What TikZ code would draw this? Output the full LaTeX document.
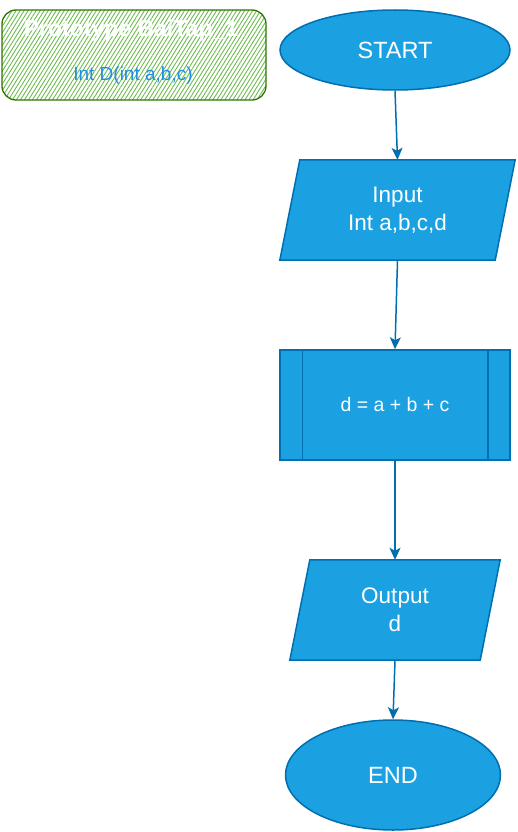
\documentclass[tikz,border=0pt]{standalone}
\usepackage{fontspec}
\setmainfont{Liberation Sans}
\usetikzlibrary{shapes.geometric,arrows.meta,patterns.meta}
\definecolor{boxfill}{HTML}{1BA1E2}
\definecolor{boxline}{HTML}{006EAF}
\definecolor{hatch}{HTML}{6CBB4F}
\definecolor{greenline}{HTML}{2D7600}
\definecolor{subblue}{HTML}{1E8FE6}
\tikzset{
  flowbox/.style={fill=boxfill,draw=boxline,line width=1.5pt},
  txt/.style={text=white,font=\fontsize{22.5}{28}\selectfont,align=center,inner sep=0pt},
  conn/.style={draw=boxline,line width=1.5pt,-{Stealth[length=12pt,width=11pt,inset=3pt]}},
}
\begin{document}
\begin{tikzpicture}[x=1pt,y=-1pt]
\useasboundingbox (0,0) rectangle (517,832);
% prototype box
\node[draw=greenline,line width=1.3pt,rounded corners=14pt,
      pattern={Lines[angle=58,distance=3.4pt,line width=0.9pt]},pattern color=hatch,
      minimum width=264pt,minimum height=90pt] (proto) at (134,55) {};
\node[text=white,font=\bfseries\fontsize{23}{27}\selectfont,inner sep=0pt] (title) at (131,31) {Prototype BaiTap\_1};
\node[text=subblue,font=\fontsize{19}{23}\selectfont,inner sep=0pt] (sub) at (133,76) {Int D(int a,b,c)};
% start
\node[ellipse,flowbox,minimum width=230pt,minimum height=80pt,txt,font=\fontsize{23.5}{28}\selectfont] (start) at (395,50) {START};
% input
\node[minimum width=235pt,minimum height=100pt,inner sep=0pt] (in) at (397.5,210) {};
\draw[flowbox] (in.south west) -- ([xshift=-20pt]in.south east) -- (in.north east) -- ([xshift=20pt]in.north west) -- cycle;
\node[txt] (intxt) at (in.center) {Input\\Int a,b,c,d};
% process
\node[rectangle,flowbox,minimum width=230pt,minimum height=110pt,inner sep=0pt] (proc) at (395,405) {};
\draw[boxline,line width=1.5pt] ([xshift=23pt]proc.north west) -- ([xshift=23pt]proc.south west);
\draw[boxline,line width=1.5pt] ([xshift=-23pt]proc.north east) -- ([xshift=-23pt]proc.south east);
\node[txt,font=\fontsize{19.5}{23}\selectfont] (proctxt) at (proc.center) {d = a + b + c};
% output
\node[minimum width=210pt,minimum height=100pt,inner sep=0pt] (out) at (395,610) {};
\draw[flowbox] (out.south west) -- ([xshift=-20pt]out.south east) -- (out.north east) -- ([xshift=20pt]out.north west) -- cycle;
\node[txt] (outtxt) at (out.center) {Output\\d};
% end
\node[ellipse,flowbox,minimum width=215pt,minimum height=110pt,txt,font=\fontsize{23.5}{28}\selectfont] (end) at (393,775) {END};
% connectors
\draw[conn] (start.south) -- (in.north);
\draw[conn] (in.south) -- (proc.north);
\draw[conn] (proc.south) -- (out.north);
\draw[conn] (out.south) -- (end.north);
\end{tikzpicture}
\end{document}
